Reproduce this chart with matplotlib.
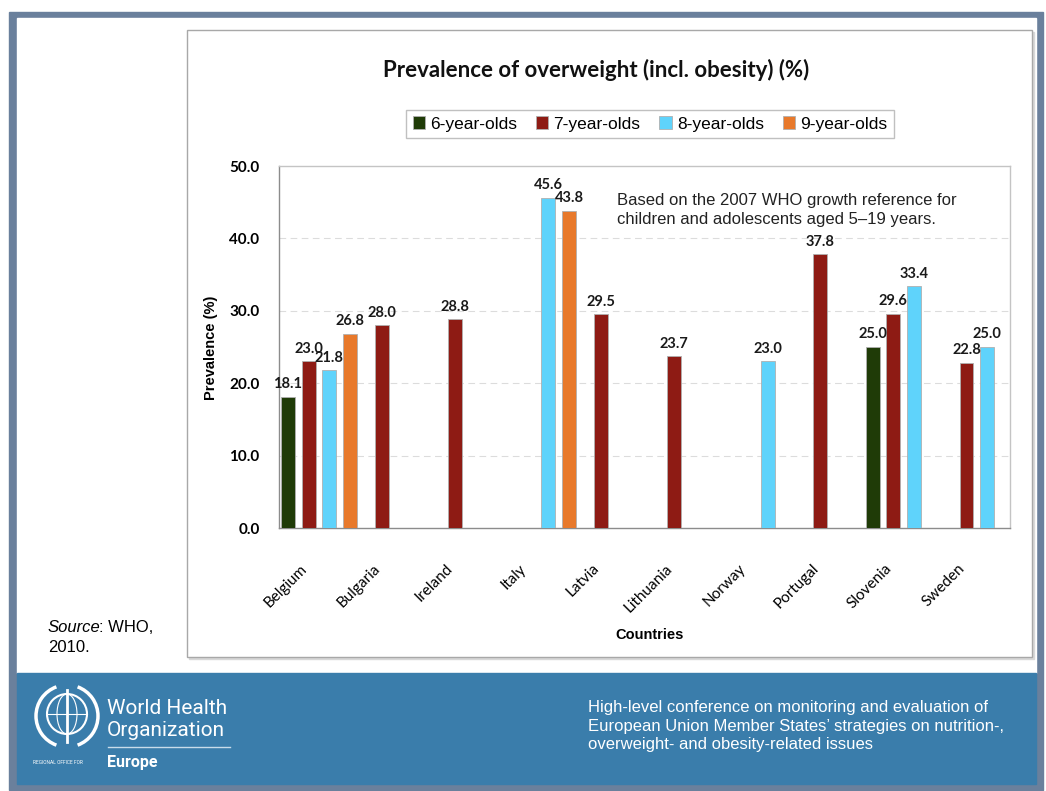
import numpy as np
import matplotlib
matplotlib.use("Agg")
import matplotlib.pyplot as plt
from matplotlib.patches import Rectangle, Circle, Ellipse, Arc

# data
countries = ["Belgium", "Bulgaria", "Ireland", "Italy", "Latvia",
             "Lithuania", "Norway", "Portugal", "Slovenia", "Sweden"]
series = ["6-year-olds", "7-year-olds", "8-year-olds", "9-year-olds"]
nan = np.nan
age6 = [18.1, nan, nan, nan, nan, nan, nan, nan, 25.0, nan]
age7 = [23.0, 28.0, 28.8, nan, 29.5, 23.7, nan, 37.8, 29.6, 22.8]
age8 = [21.8, nan, nan, 45.6, nan, nan, 23.0, nan, 33.4, 25.0]
age9 = [26.8, nan, nan, 43.8, nan, nan, nan, nan, nan, nan]
colors = ["#1f3b07", "#8e1b14", "#5fd3fb", "#e8792b"]
yticks = [0, 10, 20, 30, 40, 50]

W, H = 1046, 791
fig = plt.figure(figsize=(W / 100, H / 100), dpi=100)

# slide decoration in pixel coords
bg = fig.add_axes([0, 0, 1, 1])
bg.set_xlim(0, W)
bg.set_ylim(H, 0)
bg.axis("off")
bg.add_patch(Rectangle((9, 12), 1034, 778, color="#6a809c"))
bg.add_patch(Rectangle((17, 18), 1019, 655, color="white"))
bg.add_patch(Rectangle((17, 673), 1019, 111, color="#3a7dab"))
bg.add_patch(Rectangle((189, 32), 845, 627, color="#d8d8d8"))
bg.add_patch(Rectangle((187, 30), 845, 627, facecolor="white", edgecolor="#a8a8a8", lw=1))

# source note
src = bg.text(48, 632, "Source", fontstyle="italic", fontsize=12,
              family="Liberation Sans", va="baseline")
bg.annotate(": WHO,", xy=(1, 0), xycoords=src, xytext=(-2, 0),
            textcoords="offset pixels", fontsize=12,
            family="Liberation Sans", va="bottom")
bg.text(48, 652, "2010.", fontsize=12, family="Liberation Sans", va="baseline")

# WHO emblem (simplified) and wordmark
bg.add_patch(Circle((67, 714), 20, fill=False, ec="white", lw=1.5))
bg.add_patch(Ellipse((67, 714), 20, 40, fill=False, ec="white", lw=0.8))
bg.plot([47, 87], [714, 714], color="white", lw=0.8)
bg.plot([67, 67], [690, 742], color="white", lw=2)
bg.add_patch(Arc((67, 716), 62, 62, theta1=110, theta2=250, color="white", lw=2.5))
bg.add_patch(Arc((67, 716), 62, 62, theta1=-70, theta2=70, color="white", lw=2.5))
bg.text(107, 708, "World Health", color="white", fontsize=15, family="Roboto", va="center")
bg.text(107, 731, "Organization", color="white", fontsize=15, family="Roboto", va="center")
bg.plot([108, 230], [747, 747], color="#c8dcea", lw=1)
bg.text(33, 762, "REGIONAL OFFICE FOR", color="white", fontsize=3.5, family="Roboto", va="center")
bg.text(107, 762, "Europe", color="white", fontsize=11.5, family="Roboto", weight="bold", va="center")
bg.text(588, 726, "High-level conference on monitoring and evaluation of\n"
        "European Union Member States\u2019 strategies on nutrition-,\n"
        "overweight- and obesity-related issues",
        color="white", fontsize=12, family="Liberation Sans", va="center",
        linespacing=1.32)

# chart title
bg.text(596, 70, "Prevalence of overweight (incl. obesity) (%)", fontsize=16,
        family="Lato", weight="bold", ha="center", va="center", color="#111111")

ax = fig.add_axes([279 / W, 1 - 528 / H, 731 / W, 362 / H])
x = np.arange(len(countries))
offsets = [-0.38, -0.095, 0.185, 0.47]
bars = []
for vals, off, col, name in zip([age6, age7, age8, age9], offsets, colors, series):
    b = ax.bar(x + off, vals, width=0.19, color=col, edgecolor="#b0b0b0",
               linewidth=0.6, label=name, zorder=3)
    bars.append(b)
    for xi, v in zip(x + off, vals):
        if not np.isnan(v):
            ax.annotate(f"{v:.1f}", (xi, v), xytext=(0, 4), textcoords="offset points",
                        ha="center", va="bottom", fontsize=10.5, family="Lato",
                        weight="bold", color="#1a1a1a", zorder=4)

ax.set_xlim(-0.5, len(countries) - 0.5)
ax.set_ylim(0, 50)
ax.set_yticks(yticks)
ax.set_yticklabels([f"{t:.1f}" for t in yticks], family="Lato", weight="bold", fontsize=11)
ax.tick_params(axis="y", length=0, pad=14)
ax.set_xticks([])
for yv in yticks[1:-1]:
    ax.axhline(yv, color="#dcdcdc", lw=0.8, ls=(0, (6, 4)), zorder=1)
for s in ["left", "bottom"]:
    ax.spines[s].set_color("#8c8c8c")
    ax.spines[s].set_linewidth(1)
for s in ["top", "right"]:
    ax.spines[s].set_color("#c4c4c4")
    ax.spines[s].set_linewidth(1)

for i, c in enumerate(countries):
    ax.text(i - 0.15, -5.3, c, rotation=45, ha="right", va="center",
            rotation_mode="anchor", fontsize=11, family="Lato", clip_on=False)

ax.text(4.12, 46.3, "Based on the 2007 WHO growth reference for\n"
        "children and adolescents aged 5\u201319 years.",
        fontsize=12, family="Liberation Sans", va="top", color="#222222",
        linespacing=1.35)

bg.text(650, 635, "Countries", fontsize=10.5, family="Liberation Sans",
        weight="bold", ha="center", va="center")
bg.text(211, 348, "Prevalence (%)", fontsize=10.5, family="Liberation Sans",
        weight="bold", ha="center", va="center", rotation=90)

fig.legend(handles=bars, labels=series, loc="center",
           bbox_to_anchor=(650 / W, 1 - 124 / H), ncol=4, frameon=True,
           fancybox=False, edgecolor="#c0c0c0", framealpha=1,
           prop={"family": "Liberation Sans", "size": 12.5},
           handlelength=0.7, handleheight=0.7, handletextpad=0.3,
           columnspacing=1.1, borderpad=0.35)

plt.savefig("out.png", dpi=100)
